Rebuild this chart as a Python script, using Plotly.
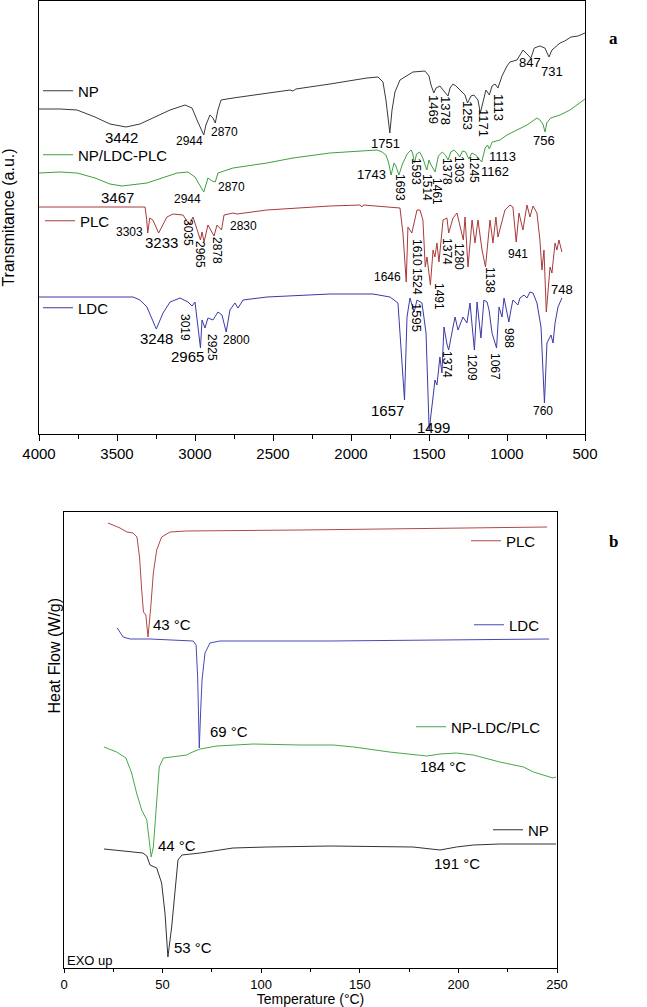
import plotly.graph_objects as go

# ---------------- FTIR data (wavenumber cm-1, transmittance a.u.) ----------------
ftir_np = [(4000,325),(3865,325),(3756,324),(3641,317),(3545,310),(3442,307),(3353,310),(3256,317),(3160,324),
           (3064,329),(3019,326),(2987,314),(2944,299),(2930,309),(2904,319),(2885,316),(2870,311),(2853,324),
           (2833,334),(2756,336),(2539,341),(2391,344),(2372,343),(2353,345),(2135,350),(1898,356),(1827,357),
           (1795,352),(1776,334),(1751,301),(1737,324),(1718,342),(1686,354),(1603,362),(1526,363),(1500,358),
           (1487,349),(1469,341),(1455,346),(1430,348),(1410,344),(1378,338),(1365,346),(1346,350),(1327,348),
           (1301,344),(1269,339),(1253,331),(1231,338),(1212,339),(1186,334),(1171,321),(1148,334),(1135,344),
           (1113,339),(1096,348),(1077,350),(1058,346),(1032,358),(1000,368),(981,372),(936,374),(897,384),
           (870,380),(847,376),(825,386),(790,388),(757,386),(731,377),(712,384),(660,391),(630,393),(590,397),
           (545,398),(500,401)]

ftir_mix = [(4000,261),(3865,262),(3756,261),(3641,256),(3545,250),(3467,248),(3308,251),(3200,257),(3115,261),
            (3045,262),(3000,257),(2944,242),(2917,256),(2890,253),(2870,252),(2853,261),(2756,266),(2539,271),
            (2372,276),(2135,281),(1833,284),(1801,282),(1776,279),(1760,272),(1743,259),(1724,271),(1712,268),
            (1693,259),(1670,270),(1640,280),(1615,284),(1605,281),(1593,271),(1580,280),(1560,282),(1540,276),
            (1514,264),(1500,274),(1490,270),(1461,262),(1440,278),(1415,282),(1395,279),(1378,274),(1360,282),
            (1340,284),(1320,281),(1303,277),(1285,283),(1265,282),(1245,275),(1225,281),(1200,279),(1162,272),
            (1140,286),(1125,289),(1113,285),(1095,292),(1045,294),(1000,299),(936,304),(872,309),(808,316),
            (789,314),(770,310),(756,302),(745,311),(720,316),(660,319),(596,324),(500,335)]

ftir_plc = [(4000,227),(3600,227),(3320,227),(3310,215),(3303,201),(3290,216),(3270,214),(3233,201),(3200,212),
            (3180,217),(3141,220),(3077,219),(3035,209),(3013,217),(2965,194),(2955,202),(2942,192),(2917,209),
            (2878,198),(2859,209),(2830,204),(2814,219),(2756,221),(2731,220),(2539,224),(2135,228),(1942,229),
            (1930,227),(1920,229),(1686,226),(1667,201),(1646,152),(1635,207),(1610,201),(1577,224),(1558,224),
            (1539,214),(1524,167),(1513,177),(1491,149),(1474,184),(1462,177),(1449,191),(1436,172),(1410,214),
            (1385,216),(1374,201),(1346,216),(1321,221),(1301,207),(1280,194),(1269,217),(1250,167),(1224,214),
            (1205,191),(1186,214),(1160,184),(1138,167),(1109,214),(1090,191),(1071,217),(1058,197),(1032,214),
            (1013,224),(981,229),(962,227),(941,192),(923,221),(898,204),(872,229),(853,217),(833,228),(808,221),
            (789,194),(776,164),(763,184),(748,122),(724,167),(712,161),(692,191),(680,184),(667,194),(648,182)]

ftir_ldc = [(4000,137),(3397,137),(3353,134),(3308,127),(3248,105),(3205,121),(3160,132),(3096,136),(3045,132),
            (3019,128),(3000,132),(2965,86),(2955,114),(2936,106),(2917,116),(2885,114),(2853,122),(2827,119),
            (2800,102),(2776,124),(2744,131),(2724,126),(2692,134),(2539,137),(2135,140),(1859,140),(1750,137),
            (1699,131),(1657,34),(1641,117),(1622,136),(1595,122),(1577,134),(1545,131),(1519,101),(1499,4),
            (1474,37),(1462,54),(1449,49),(1430,77),(1417,61),(1404,107),(1385,90),(1374,84),(1346,107),
            (1333,117),(1314,104),(1282,117),(1257,111),(1237,131),(1209,84),(1192,132),(1167,96),(1148,134),
            (1128,132),(1115,124),(1096,101),(1067,86),(1051,127),(1032,117),(1019,136),(988,112),(975,124),
            (962,134),(930,129),(917,136),(891,139),(872,136),(853,142),(833,141),(808,131),(782,107),(760,31),
            (744,91),(718,99),(705,91),(692,111),(673,127),(648,136)]

# peak labels: (text, wavenumber, a.u., rotated, font size)
ftir_labels = [
    ("3442",3468,297,False,15),("2944",3038,293,False,12),("2870",2808,302,False,12),("1751",1776,291,False,13),
    ("1469",1468,324,True,13),("1378",1391,324,True,13),("1253",1250,319,True,13),("1171",1148,311,True,13),
    ("1113",1051,327,True,13),("847",853,372,False,13),("731",712,363,False,13),
    ("3467",3500,237,False,15),("2944",3045,235,False,12),("2870",2769,247,False,12),("1743",1866,260,False,13),
    ("1693",1686,246,True,12),("1593",1583,263,True,12),("1514",1513,246,True,12),("1461",1449,242,True,12),
    ("1378",1385,262,True,12),("1303",1308,264,True,12),("1245",1212,264,True,12),("1162",1077,263,False,13),
    ("1113",1032,278,False,13),("756",763,294,False,13),
    ("3303",3417,202,False,12),("3233",3212,192,False,15),("3035",3045,201,True,12),("2965",2968,179,True,12),
    ("2878",2859,184,True,12),("2830",2692,208,False,12),("1646",1769,157,False,12),("1610",1577,181,True,12),
    ("1524",1577,152,True,12),("1491",1436,137,True,12),("1374",1385,182,True,12),("1280",1308,177,True,12),
    ("1138",1109,154,True,12),("941",930,180,False,12),("748",648,145,False,13),
    ("3248",3244,96,False,15),("3019",3064,107,True,12),("2965",3051,78,False,15),("2925",2891,87,True,12),
    ("2800",2731,94,False,12),("1595",1577,116,True,13),("1657",1769,24,False,15),("1499",1468,7,False,15),
    ("1374",1385,69,True,12),("1209",1224,67,True,12),("1067",1077,67,True,12),("988",987,96,True,12),
    ("760",769,23,False,12),
]

# ---------------- DSC data (temperature °C, heat flow a.u.) ----------------
dsc_plc = [(22.3,445),(28.4,440),(31.9,436),(35,435),(37,431),(38.3,411),(39.4,378),(40.3,356),(41.5,353),
           (42.6,331),(44,361),(45.3,395),(47,418),(49.5,431),(53.8,436),(62,437),(120,438),(245,441)]
dsc_ldc = [(27,340),(30,331),(33.5,329),(43.6,329),(65.5,327),(67,323),(67.8,290),(68.6,220),(69.4,262),
           (70,288),(71.5,315),(74,325),(79,327),(135,327),(246,329)]
dsc_mix = [(20.3,221),(26.7,216),(31.4,210),(34.3,195),(36.8,175),(39.4,158),(42,148),(43,128),(44.2,111),
           (45.3,121),(46.7,161),(48.3,201),(50.4,210),(55.5,211),(62.3,213),(64,215),(69,219),(77.5,222),
           (96,224),(119.7,223),(136.6,223),(147,221),(165,216),(184,212),(190.7,214),(199,215),(207.6,213),
           (221,206),(233,201),(238,196),(248,190),(249.5,191)]
dsc_np = [(20.3,119),(35,116),(40,115),(42,112),(43.6,103),(47,100),(49.5,85),(51.2,55),(52.7,11),(54.6,41),
          (56.3,81),(57.8,108),(59.8,113),(69,115),(85.7,120),(102.9,121),(135,122),(170,121),(177,121),
          (190.7,118),(199,121),(207.6,123),(221,124),(249.5,124)]

dsc_labels = [("43 °C",54.8,344),("69 °C",83.7,237),("44 °C",57.3,123),("53 °C",65.4,21),
              ("184 °C",192.2,202),("191 °C",199.3,105)]

FONT = "Liberation Sans, Arial, sans-serif"
C_NP, C_MIX, C_PLC, C_LDC = "#3a3a3a", "#3f9f3f", "#a83a3a", "#3a3aa8"

W, H = 647, 1007
def px(x): return x / W
def py(y): return 1 - y / H

fig = go.Figure()

def add(data, name, color, xa, ya, leg):
    fig.add_trace(go.Scatter(x=[p[0] for p in data], y=[p[1] for p in data], mode="lines", name=name,
                             line=dict(color=color, width=1), xaxis=xa, yaxis=ya, legend=leg))

add(ftir_np, "NP", C_NP, "x", "y", "legend")
add(ftir_mix, "NP/LDC-PLC", C_MIX, "x", "y", "legend2")
add(ftir_plc, "PLC", C_PLC, "x", "y", "legend3")
add(ftir_ldc, "LDC", C_LDC, "x", "y", "legend4")
add(dsc_plc, "PLC", "#b04848", "x2", "y2", "legend5")
add(dsc_ldc, "LDC", "#4848b8", "x2", "y2", "legend6")
add(dsc_mix, "NP-LDC/PLC", "#48a848", "x2", "y2", "legend7")
add(dsc_np, "NP", "#333333", "x2", "y2", "legend8")

ann = []
for t, x, y, rot, fs in ftir_labels:
    ann.append(dict(text=t, x=x, y=y, xref="x", yref="y", showarrow=False, textangle=90 if rot else 0,
                    font=dict(size=fs, color="black", family=FONT)))
for t, x, y in dsc_labels:
    ann.append(dict(text=t, x=x, y=y, xref="x2", yref="y2", showarrow=False,
                    font=dict(size=15, color="black", family=FONT)))
ann.append(dict(text="EXO up", x=0.5, y=8, xref="x2", yref="y2", xanchor="left", showarrow=False,
                font=dict(size=13, color="black", family=FONT)))
ann.append(dict(text="Heat Flow (W/g)", x=px(43), y=py(716), xref="paper", yref="paper", showarrow=False,
                textangle=-90, font=dict(size=16, color="black", family=FONT)))
ann.append(dict(text="<b>a</b>", x=px(620), y=py(27), xref="paper", yref="paper", showarrow=False,
                font=dict(size=17, color="black", family="Liberation Serif, serif")))
ann.append(dict(text="<b>b</b>", x=px(620), y=py(541), xref="paper", yref="paper", showarrow=False,
                font=dict(size=17, color="black", family="Liberation Serif, serif")))

def leg(xpx, ypx):
    return dict(x=px(xpx), y=py(ypx), xanchor="left", yanchor="middle", bgcolor="rgba(0,0,0,0)",
                borderwidth=0, itemwidth=30, font=dict(size=15, color="black", family=FONT))

axis_common = dict(showline=True, linecolor="black", linewidth=1, mirror=True, showgrid=False, zeroline=False,
                   automargin=False)

fig.update_layout(
    width=W, height=H, margin=dict(l=0, r=0, t=0, b=0, autoexpand=False),
    paper_bgcolor="white", plot_bgcolor="white", showlegend=True,
    font=dict(family=FONT, color="black"),
    xaxis=dict(domain=[px(39), px(585)], range=[4000, 500], anchor="y", tickmode="linear", tick0=500, dtick=500,
               ticks="outside", ticklen=6, tickcolor="black", tickfont=dict(size=15),
               minor=dict(dtick=250, tick0=500, ticks="outside", ticklen=4, tickcolor="black"), **axis_common),
    yaxis=dict(domain=[py(434), py(1)], range=[0, 433], anchor="x", showticklabels=False, ticks="",
               title=dict(text="Transmitance (a.u.)", font=dict(size=16), standoff=20), **axis_common),
    xaxis2=dict(domain=[px(64), px(557)], range=[0, 250], anchor="y2", tickmode="linear", tick0=0, dtick=50,
                ticks="outside", ticklen=4, tickcolor="black", tickfont=dict(size=13),
                minor=dict(dtick=25, tick0=0, ticks="outside", ticklen=3, tickcolor="black"),
                title=dict(text="Temperature (°C)", font=dict(size=14), standoff=5), **axis_common),
    yaxis2=dict(domain=[py(968), py(512)], range=[0, 456], anchor="x2", showticklabels=False, ticks="",
                **axis_common),
    legend=leg(38, 91), legend2=leg(38, 155), legend3=leg(40, 221), legend4=leg(38, 308),
    legend5=leg(466, 541), legend6=leg(469, 625), legend7=leg(411, 727), legend8=leg(488, 830),
    annotations=ann,
)

# the page's default 8px body margin would shift the figure; remove it
fig.write_html("out.html", config={"displayModeBar": False},
               post_script="document.body.style.margin='0px';")
